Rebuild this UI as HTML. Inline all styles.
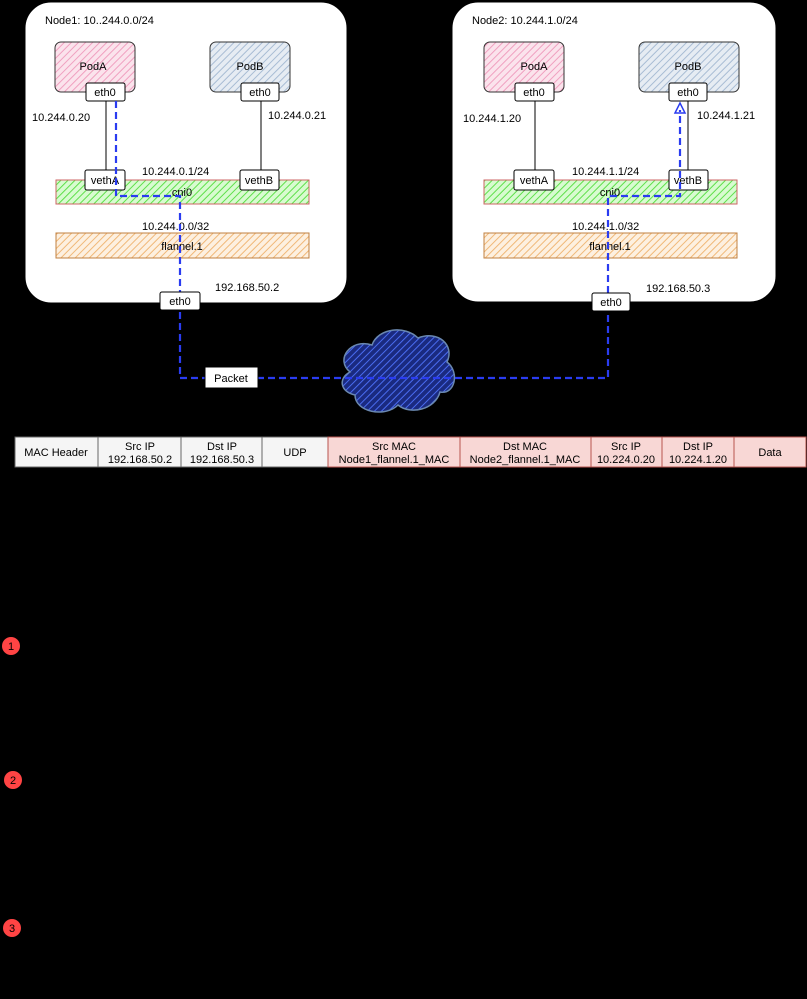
<!DOCTYPE html>
<html><head><meta charset="utf-8"><style>
body{margin:0;background:#000;width:807px;height:994px;overflow:hidden;font-family:"Liberation Sans",sans-serif}
svg text{font-family:"Liberation Sans",sans-serif;font-size:11px;fill:#000}
</style></head><body>
<svg width="807" height="994" xmlns="http://www.w3.org/2000/svg">
<defs>
<pattern id="hp" width="5" height="5" patternUnits="userSpaceOnUse" patternTransform="rotate(45)"><rect width="5" height="5" fill="#fbe3ec"/><line x1="0" y1="0" x2="0" y2="5" stroke="#f0a0c0" stroke-width="2"/></pattern>
<pattern id="hb" width="5" height="5" patternUnits="userSpaceOnUse" patternTransform="rotate(45)"><rect width="5" height="5" fill="#e6ecf3"/><line x1="0" y1="0" x2="0" y2="5" stroke="#a8bcd4" stroke-width="2"/></pattern>
<pattern id="hg" width="5" height="5" patternUnits="userSpaceOnUse" patternTransform="rotate(45)"><rect width="5" height="5" fill="#d8fbd0"/><line x1="0" y1="0" x2="0" y2="5" stroke="#5ee04a" stroke-width="2"/></pattern>
<pattern id="ho" width="5" height="5" patternUnits="userSpaceOnUse" patternTransform="rotate(45)"><rect width="5" height="5" fill="#fdf0e0"/><line x1="0" y1="0" x2="0" y2="5" stroke="#f0b878" stroke-width="2"/></pattern>
<pattern id="hc" width="5" height="5" patternUnits="userSpaceOnUse" patternTransform="rotate(45)"><rect width="5" height="5" fill="#1a2a80"/><line x1="0" y1="0" x2="0" y2="5" stroke="#4a6cf0" stroke-width="2"/></pattern>
</defs>
<!-- Node1 -->
<rect x="25" y="2" width="322" height="301" rx="26" fill="#fff" stroke="#000"/>
<text x="45" y="24">Node1: 10..244.0.0/24</text>
<rect x="55" y="42" width="80" height="50" rx="6" fill="url(#hp)" stroke="#333"/>
<text x="93" y="70" text-anchor="middle">PodA</text>
<rect x="210" y="42" width="80" height="50" rx="6" fill="url(#hb)" stroke="#333"/>
<text x="250" y="70" text-anchor="middle">PodB</text>
<line x1="106" y1="100" x2="106" y2="172" stroke="#000"/>
<line x1="261" y1="100" x2="261" y2="172" stroke="#000"/>
<rect x="56" y="180" width="253" height="24" fill="url(#hg)" stroke="#c66"/>
<text x="182" y="196" text-anchor="middle">cni0</text>
<rect x="56" y="233" width="253" height="25" fill="url(#ho)" stroke="#c08040"/>
<text x="182" y="250" text-anchor="middle">flannel.1</text>
<rect x="86" y="83" width="39" height="18" rx="2" fill="#fff" stroke="#000"/><text x="105" y="96" text-anchor="middle">eth0</text>
<rect x="241" y="83" width="38" height="18" rx="2" fill="#fff" stroke="#000"/><text x="260" y="96" text-anchor="middle">eth0</text>
<rect x="85" y="170" width="40" height="20" rx="2" fill="#fff" stroke="#000"/><text x="105" y="184" text-anchor="middle">vethA</text>
<rect x="240" y="170" width="39" height="20" rx="2" fill="#fff" stroke="#000"/><text x="259" y="184" text-anchor="middle">vethB</text>
<text x="32" y="121">10.244.0.20</text>
<text x="268" y="119">10.244.0.21</text>
<text x="142" y="175">10.244.0.1/24</text>
<text x="142" y="230">10.244.0.0/32</text>
<text x="215" y="291">192.168.50.2</text>
<!-- Node2 -->
<rect x="452" y="2" width="324" height="300" rx="26" fill="#fff" stroke="#000"/>
<text x="472" y="24">Node2: 10.244.1.0/24</text>
<rect x="484" y="42" width="80" height="50" rx="6" fill="url(#hp)" stroke="#333"/>
<text x="534" y="70" text-anchor="middle">PodA</text>
<rect x="639" y="42" width="100" height="50" rx="6" fill="url(#hb)" stroke="#333"/>
<text x="688" y="70" text-anchor="middle">PodB</text>
<line x1="535" y1="100" x2="535" y2="172" stroke="#000"/>
<line x1="688" y1="100" x2="688" y2="172" stroke="#000"/>
<rect x="484" y="180" width="253" height="24" fill="url(#hg)" stroke="#c66"/>
<text x="610" y="196" text-anchor="middle">cni0</text>
<rect x="484" y="233" width="253" height="25" fill="url(#ho)" stroke="#c08040"/>
<text x="610" y="250" text-anchor="middle">flannel.1</text>
<rect x="515" y="83" width="39" height="18" rx="2" fill="#fff" stroke="#000"/><text x="534" y="96" text-anchor="middle">eth0</text>
<rect x="669" y="83" width="38" height="18" rx="2" fill="#fff" stroke="#000"/><text x="688" y="96" text-anchor="middle">eth0</text>
<rect x="514" y="170" width="40" height="20" rx="2" fill="#fff" stroke="#000"/><text x="534" y="184" text-anchor="middle">vethA</text>
<rect x="669" y="170" width="39" height="20" rx="2" fill="#fff" stroke="#000"/><text x="688" y="184" text-anchor="middle">vethB</text>
<text x="463" y="122">10.244.1.20</text>
<text x="697" y="119">10.244.1.21</text>
<text x="572" y="175">10.244.1.1/24</text>
<text x="572" y="230">10.244.1.0/32</text>
<text x="646" y="292">192.168.50.3</text>
<!-- cloud -->
<path d="M350,372 C335,360 350,338 372,345 C378,328 405,325 418,338 C438,330 455,345 447,362 C460,372 455,395 440,392 C435,410 410,415 398,405 C385,418 355,412 355,395 C340,392 338,378 350,372 Z" fill="url(#hc)" stroke="#6a88b0" stroke-width="1.5"/>
<!-- blue path -->
<path d="M116,101 V196 H180 V378 H608 V310 M608,293 V196 H680 V110" fill="none" stroke="#2a3cf0" stroke-width="2.2" stroke-dasharray="7,4"/>
<path d="M675,113 L680,103 L685,113 Z" fill="none" stroke="#2a3cf0" stroke-width="1.5"/>
<rect x="160" y="292" width="40" height="18" rx="2" fill="#fff" stroke="#000"/><text x="180" y="305" text-anchor="middle">eth0</text>
<rect x="592" y="293" width="38" height="18" rx="2" fill="#fff" stroke="#000"/><text x="611" y="306" text-anchor="middle">eth0</text>
<rect x="205" y="367" width="53" height="21" fill="#fff" stroke="#000"/><text x="231" y="382" text-anchor="middle">Packet</text>
<!-- table -->
<g stroke-width="1">
<rect x="15" y="437" width="83" height="30" fill="#f5f5f5" stroke="#666"/>
<rect x="98" y="437" width="83" height="30" fill="#f5f5f5" stroke="#666"/>
<rect x="181" y="437" width="81" height="30" fill="#f5f5f5" stroke="#666"/>
<rect x="262" y="437" width="66" height="30" fill="#f5f5f5" stroke="#666"/>
<rect x="328" y="437" width="132" height="30" fill="#f8d7d5" stroke="#b85450"/>
<rect x="460" y="437" width="131" height="30" fill="#f8d7d5" stroke="#b85450"/>
<rect x="591" y="437" width="71" height="30" fill="#f8d7d5" stroke="#b85450"/>
<rect x="662" y="437" width="72" height="30" fill="#f8d7d5" stroke="#b85450"/>
<rect x="734" y="437" width="72" height="30" fill="#f8d7d5" stroke="#b85450"/>
</g>
<g text-anchor="middle">
<text x="56" y="456">MAC Header</text>
<text x="140" y="450">Src IP</text><text x="140" y="463">192.168.50.2</text>
<text x="222" y="450">Dst IP</text><text x="222" y="463">192.168.50.3</text>
<text x="295" y="456">UDP</text>
<text x="394" y="450">Src MAC</text><text x="394" y="463">Node1_flannel.1_MAC</text>
<text x="525" y="450">Dst MAC</text><text x="525" y="463">Node2_flannel.1_MAC</text>
<text x="626" y="450">Src IP</text><text x="626" y="463">10.224.0.20</text>
<text x="698" y="450">Dst IP</text><text x="698" y="463">10.224.1.20</text>
<text x="770" y="456">Data</text>
</g>
<!-- red circles -->
<circle cx="11" cy="646" r="9" fill="#f44"/><text x="11" y="650" text-anchor="middle" style="fill:#000">1</text>
<circle cx="13" cy="780" r="9" fill="#f44"/><text x="13" y="784" text-anchor="middle" style="fill:#000">2</text>
<circle cx="12" cy="928" r="9" fill="#f44"/><text x="12" y="932" text-anchor="middle" style="fill:#000">3</text>
</svg>
</body></html>
